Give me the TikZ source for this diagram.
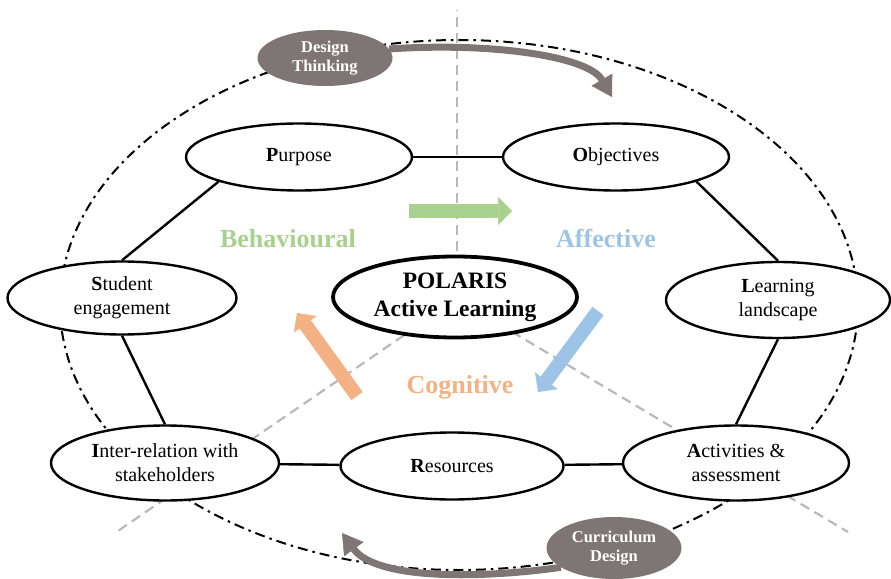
\documentclass[tikz,border=0pt]{standalone}
\usepackage{fontspec}
\setmainfont{Liberation Serif}
\usetikzlibrary{shapes.geometric,arrows.meta}
\definecolor{bubblegray}{RGB}{126,118,116}
\definecolor{guidegray}{RGB}{185,185,185}
\definecolor{behavgreen}{RGB}{169,209,142}
\definecolor{affectblue}{RGB}{157,195,230}
\definecolor{cognorange}{RGB}{244,177,131}

\begin{document}
\begin{tikzpicture}[x=1pt, y=-1pt,
	stage/.style={ellipse, draw, line width=2.4pt, fill=white, inner sep=0pt, align=center, font=\fontsize{20}{24}\selectfont},
	hub/.style={stage, line width=3.8pt, font=\fontsize{23.5}{28}\selectfont\bfseries},
	bubble/.style={ellipse, fill=bubblegray, text=white, inner sep=0pt, align=center, font=\fontsize{16.5}{19}\selectfont\bfseries},
	flow/.style={line width=7pt, draw=bubblegray, -{Triangle[length=20pt, width=24pt, line width=0.5pt]}},
	block/.style={line width=14pt, -{Triangle[length=14pt, width=28pt, line width=0.5pt]}},
	guide/.style={draw=guidegray, line width=2.2pt, dash pattern=on 10pt off 6pt},
	facet/.style={font=\fontsize{26}{30}\selectfont\bfseries}]
	\useasboundingbox (0,0) rectangle (891,578);
	\draw[line width=2pt, dash pattern=on 10pt off 5pt on 2.5pt off 5pt] (459,305) ellipse [x radius=399pt, y radius=265pt];
	\coordinate (core) at (457,299);
	\draw[guide] (core) -- (457,10);
	\draw[guide] (core) -- (115,533);
	\draw[guide] (core) -- (848,532);

	\node[stage, minimum width=226pt, minimum height=67pt] (pur) at (299,157) {\textbf{P}urpose};
	\node[stage, minimum width=226pt, minimum height=67pt] (obj) at (616,157) {\textbf{O}bjectives};
	\node[stage, minimum width=229pt, minimum height=73pt] (stu) at (122,298) {\textbf{S}tudent\\engagement};
	\node[stage, minimum width=224pt, minimum height=76pt] (lrn) at (778,300) {\textbf{L}earning\\landscape};
	\node[stage, minimum width=228pt, minimum height=75pt] (int) at (165,463) {\textbf{I}nter-relation with\\stakeholders};
	\node[stage, minimum width=223pt, minimum height=67pt] (res) at (452,466) {\textbf{R}esources};
	\node[stage, minimum width=226pt, minimum height=75pt] (act) at (736,463) {\textbf{A}ctivities \&\\assessment};
	\node[hub, minimum width=244pt, minimum height=81pt] (pol) at (455,297) {POLARIS\\Active Learning};

	\draw[line width=2.4pt] (pur) -- (obj);
	\draw[line width=2.4pt] (obj.-17) -- (lrn.north);
	\draw[line width=2.4pt] (lrn.south) -- (act.north);
	\draw[line width=2.4pt] (act) -- (res);
	\draw[line width=2.4pt] (res) -- (int);
	\draw[line width=2.4pt] (int.north) -- (stu.south);
	\draw[line width=2.4pt] (stu.north) -- (pur.197);

	\draw[block, behavgreen] (409,211) -- (512,211);
	\draw[block, affectblue] (598,311) -- (538,392);
	\draw[block, cognorange] (357,396) -- (297,313);
	\node[facet, text=behavgreen] (beh) at (288,239) {Behavioural};
	\node[facet, text=affectblue] (aff) at (606,238) {Affective};
	\node[facet, text=cognorange] (cog) at (460,387) {Cognitive};

	\node[bubble, minimum width=135pt, minimum height=56pt] (dt) at (325,58) {Design\\Thinking};
	\node[bubble, minimum width=135pt, minimum height=62pt] (cd) at (614,548) {Curriculum\\Design};
	\draw[flow] (dt.8) .. controls (490,42) and (588,56) .. (612,97);
	\draw[flow] (cd.200) .. controls (470,580) and (375,578) .. (342,533);
\end{tikzpicture}
\end{document}
